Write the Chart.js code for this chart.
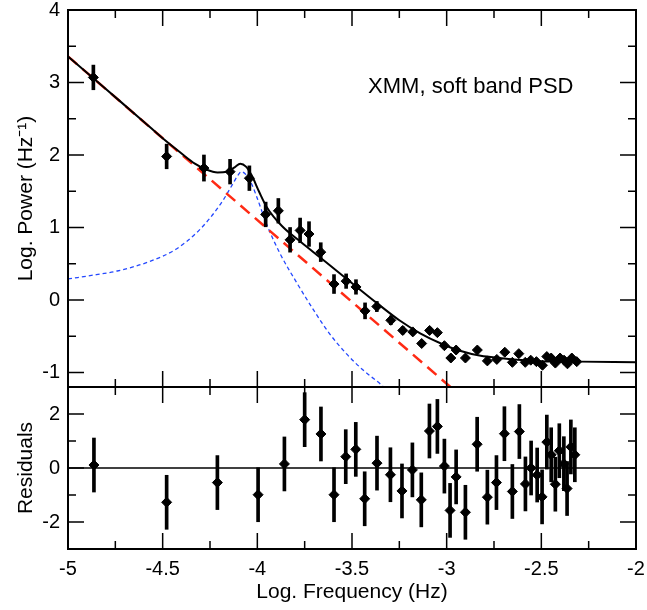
<!DOCTYPE html>
<html>
<head>
<meta charset="utf-8">
<script src="https://cdn.jsdelivr.net/npm/chart.js@4.4.0/dist/chart.umd.min.js"></script>
<style>
  html, body { margin: 0; padding: 0; background: #fff; }
  #wrap { width: 647px; height: 610px; }
</style>
</head>
<body>
<div id="wrap"><canvas id="psd" width="647" height="610"></canvas></div>
<script>
Chart.defaults.devicePixelRatio = 1;
Chart.defaults.responsive = false;
Chart.defaults.maintainAspectRatio = false;

// PSD points (log frequency, log power, 1-sigma error)
const psdFreq = [-4.866, -4.479, -4.282, -4.144, -4.042, -3.956, -3.889, -3.827, -3.774, -3.727,
  -3.665, -3.595, -3.531, -3.479, -3.431, -3.369, -3.295, -3.232, -3.179, -3.132,
  -3.090, -3.049, -3.012, -2.978, -2.950, -2.901, -2.838, -2.785, -2.735, -2.693,
  -2.653, -2.619, -2.585, -2.556, -2.526, -2.494, -2.471, -2.448, -2.426, -2.401,
  -2.380, -2.362, -2.339, -2.313];
const psdPower = [3.07, 1.98, 1.82, 1.77, 1.68, 1.18, 1.23, 0.83, 0.96, 0.91,
  0.66, 0.22, 0.26, 0.18, -0.15, -0.09, -0.28, -0.42, -0.44, -0.60,
  -0.42, -0.45, -0.63, -0.80, -0.69, -0.80, -0.69, -0.84, -0.82, -0.72,
  -0.86, -0.74, -0.86, -0.83, -0.85, -0.90, -0.78, -0.80, -0.87, -0.80,
  -0.83, -0.88, -0.80, -0.85];
const psdErr = [0.17, 0.17, 0.18, 0.17, 0.17, 0.17, 0.17, 0.17, 0.17, 0.17,
  0.13, 0.13, 0.10, 0.10, 0.11, 0.07, 0.06, 0.05, 0.04, 0.04,
  0.04, 0.04, 0.04, 0.04, 0.04, 0.04, 0.04, 0.04, 0.04, 0.04,
  0.04, 0.04, 0.04, 0.04, 0.04, 0.04, 0.04, 0.04, 0.04, 0.04,
  0.04, 0.04, 0.04, 0.04];

// model curves
const modelFreq = [-5.0, -4.8, -4.6, -4.5, -4.4, -4.33, -4.27, -4.21, -4.16, -4.12,
  -4.09, -4.06, -4.03, -3.99, -3.95, -3.87, -3.77, -3.67, -3.57,
  -3.48, -3.37, -3.25, -3.14, -3.03, -2.93,
  -2.82, -2.72, -2.54, -2.3, -2.0];
const modelPower = [3.36, 2.91, 2.46, 2.23, 2.02, 1.88, 1.80, 1.76, 1.77, 1.83,
  1.88, 1.84, 1.72, 1.49, 1.28, 1.02, 0.80, 0.59, 0.38,
  0.19, -0.04, -0.28, -0.46, -0.60, -0.70,
  -0.77, -0.80, -0.84, -0.85, -0.86];
const powerLawFreq = [-5.0, -2.98];
const powerLawPower = [3.36, -1.2];
const lorentzFreq = [-5.0, -4.85, -4.74, -4.57, -4.43, -4.32, -4.25, -4.18, -4.13, -4.10,
  -4.085, -4.06, -4.03, -4.0, -3.95, -3.88, -3.79, -3.70, -3.62, -3.53,
  -3.44, -3.35, -3.31];
const lorentzPower = [0.29, 0.35, 0.40, 0.53, 0.70, 0.93, 1.13, 1.38, 1.60, 1.73,
  1.77, 1.73, 1.60, 1.40, 1.04, 0.64, 0.23, -0.15, -0.46, -0.74,
  -0.97, -1.16, -1.26];

// residuals
const resFreq = [-4.863, -4.479, -4.211, -3.996, -3.857, -3.750, -3.664, -3.595, -3.533, -3.480,
  -3.433, -3.368, -3.297, -3.236, -3.181, -3.134, -3.091, -3.049, -3.012, -2.982,
  -2.950, -2.901, -2.839, -2.785, -2.737, -2.695, -2.653, -2.616, -2.584, -2.554,
  -2.522, -2.496, -2.471, -2.448, -2.426, -2.405, -2.381, -2.364, -2.344, -2.323];
const resValue = [0.11, -1.27, -0.54, -0.99, 0.15, 1.79, 1.26, -0.99, 0.42, 0.69,
  -1.14, 0.18, -0.25, -0.85, -0.07, -1.18, 1.37, 1.54, 0.07, -1.57,
  -0.33, -1.64, 0.88, -1.08, -0.54, 1.27, -0.87, 1.35, -0.59, 0.0,
  -0.26, -1.07, 0.96, 0.49, -0.60, 0.64, 0.16, -0.76, 0.78, 0.49];
const resErr = [1.0, 1.0, 1.0, 1.0, 1.0, 1.0, 1.0, 1.0, 1.0, 1.0,
  1.0, 1.0, 1.0, 1.0, 1.0, 1.0, 1.0, 1.0, 1.0, 1.0,
  1.0, 1.0, 1.0, 1.0, 1.0, 1.0, 1.0, 1.0, 1.0, 1.0,
  1.0, 1.0, 1.0, 1.0, 1.0, 1.0, 1.0, 1.0, 1.0, 1.0];

const xTicks = [-5, -4.5, -4, -3.5, -3, -2.5, -2];
const powerTicks = [-1, 0, 1, 2, 3, 4];
const resTicks = [-2, 0, 2];
const annotText = "XMM, soft band PSD";
const annotX = -3.415;
const annotY = 2.94;

const FONT = '"Liberation Sans", Arial, Helvetica, sans-serif';

function pts(xs, ys) {
  return xs.map((x, i) => ({ x: x, y: ys[i] }));
}
function bars(xs, ys, es) {
  return xs.map((x, i) => ({ x: x, y: [ys[i] - es[i], ys[i] + es[i]] }));
}

// frame, inward ticks on all sides of both panels, and the label
const framePlugin = {
  id: "frame",
  afterDraw(chart) {
    const { ctx } = chart;
    const xs = chart.scales.x;
    const panels = [
      { sc: chart.scales.y, major: 1, minor: 0.5, lo: -1.2, hi: 4 },
      { sc: chart.scales.yRes, major: 2, minor: 1, lo: -3, hi: 3 },
    ];
    const L = xs.left, R = xs.right;
    ctx.save();
    ctx.strokeStyle = "#000";
    ctx.lineWidth = 1.5;
    panels.forEach((p) => {
      const T = p.sc.top, B = p.sc.bottom;
      ctx.beginPath();
      for (let v = -5; v <= -2.0001; v += 0.25) {
        const px = xs.getPixelForValue(v);
        const len = Math.abs(v * 2 - Math.round(v * 2)) < 1e-6 ? 16 : 8;
        ctx.moveTo(px, T); ctx.lineTo(px, T + len);
        ctx.moveTo(px, B); ctx.lineTo(px, B - len);
      }
      const start = Math.ceil(p.lo / p.minor) * p.minor;
      for (let v = start; v <= p.hi + 1e-6; v += p.minor) {
        const py = p.sc.getPixelForValue(v);
        if (py <= T + 1 || py >= B - 1) continue;
        const len = Math.abs(v / p.major - Math.round(v / p.major)) < 1e-6 ? 16 : 8;
        ctx.moveTo(L, py); ctx.lineTo(L + len, py);
        ctx.moveTo(R, py); ctx.lineTo(R - len, py);
      }
      ctx.stroke();
      ctx.lineWidth = 2;
      ctx.strokeRect(L, T, R - L, B - T);
      ctx.lineWidth = 1.5;
    });
    ctx.fillStyle = "#000";
    ctx.font = "22px " + FONT;
    ctx.textBaseline = "middle";
    ctx.textAlign = "left";
    ctx.fillText(annotText, xs.getPixelForValue(annotX), chart.scales.y.getPixelForValue(annotY));
    ctx.restore();
  },
};

const tickFont = { family: FONT, size: 20 };
const titleFont = { family: FONT, size: 21 };

// keep tick labels from pushing the plot area inward
function fixWidth(s) {
  s.width = 68;
  s.paddingTop = 0;
  s.paddingBottom = 0;
}

new Chart(document.getElementById("psd").getContext("2d"), {
  type: "scatter",
  data: {
    datasets: [
      {
        type: "scatter",
        data: pts(psdFreq, psdPower),
        yAxisID: "y",
        pointStyle: "rectRot",
        pointRadius: 5,
        backgroundColor: "#000",
        borderColor: "#000",
        borderWidth: 1,
      },
      {
        type: "bar",
        data: bars(psdFreq, psdPower, psdErr),
        yAxisID: "y",
        backgroundColor: "#000",
        barThickness: 3,
        grouped: false,
      },
      {
        type: "scatter",
        data: pts(resFreq, resValue),
        yAxisID: "yRes",
        pointStyle: "rectRot",
        pointRadius: 5,
        backgroundColor: "#000",
        borderColor: "#000",
        borderWidth: 1,
      },
      {
        type: "bar",
        data: bars(resFreq, resValue, resErr),
        yAxisID: "yRes",
        backgroundColor: "#000",
        barThickness: 3,
        grouped: false,
      },
      {
        type: "line",
        data: pts(modelFreq, modelPower),
        yAxisID: "y",
        borderColor: "#000",
        borderWidth: 2,
        pointRadius: 0,
        cubicInterpolationMode: "monotone",
        fill: false,
      },
      {
        type: "line",
        data: pts(powerLawFreq, powerLawPower),
        yAxisID: "y",
        borderColor: "#ff2a14",
        borderWidth: 2.5,
        borderDash: [12, 7],
        pointRadius: 0,
        fill: false,
      },
      {
        type: "line",
        data: pts(lorentzFreq, lorentzPower),
        yAxisID: "y",
        borderColor: "#2448ff",
        borderWidth: 1.3,
        borderDash: [4, 3],
        pointRadius: 0,
        cubicInterpolationMode: "monotone",
        fill: false,
      },
      {
        type: "line",
        data: [{ x: -5, y: 0 }, { x: -2, y: 0 }],
        yAxisID: "yRes",
        borderColor: "#000",
        borderWidth: 1.3,
        pointRadius: 0,
        fill: false,
      },
    ],
  },
  options: {
    responsive: false,
    animation: false,
    events: [],
    layout: { padding: { top: 10, right: 11, left: 0, bottom: 0 } },
    plugins: { legend: { display: false }, tooltip: { enabled: false } },
    scales: {
      x: {
        type: "linear",
        min: -5,
        max: -2,
        offset: false,
        grid: { display: false, drawTicks: false },
        border: { display: false },
        afterBuildTicks: (s) => { s.ticks = xTicks.map((v) => ({ value: v })); },
        ticks: {
          color: "#000",
          font: tickFont,
          padding: 8,
          maxRotation: 0,
          autoSkip: false,
          callback: (v) => (Number.isInteger(v) ? String(v) : v.toFixed(1)),
        },
        title: {
          display: true,
          text: "Log. Frequency (Hz)",
          color: "#000",
          font: titleFont,
          padding: { top: 0, bottom: 5 },
        },
        afterFit: (s) => {
          s.height = 61;
          s.paddingLeft = 0;
          s.paddingRight = 0;
        },
      },
      // left boxes are stacked in reverse order: the later one ends up on top
      yRes: {
        type: "linear",
        position: "left",
        stack: "panels",
        stackWeight: 162,
        min: -3,
        max: 3,
        grid: { display: false, drawTicks: false },
        border: { display: false },
        afterBuildTicks: (s) => { s.ticks = resTicks.map((v) => ({ value: v })); },
        ticks: { color: "#000", font: tickFont, padding: 8 },
        title: {
          display: true,
          text: "Residuals",
          color: "#000",
          font: titleFont,
          padding: { top: 14, bottom: 0 },
        },
        afterFit: fixWidth,
      },
      y: {
        type: "linear",
        position: "left",
        stack: "panels",
        stackWeight: 377,
        min: -1.2,
        max: 4,
        grid: { display: false, drawTicks: false },
        border: { display: false },
        afterBuildTicks: (s) => { s.ticks = powerTicks.map((v) => ({ value: v })); },
        ticks: { color: "#000", font: tickFont, padding: 8 },
        title: {
          display: true,
          text: "Log. Power (Hz\u207B\u00B9)",
          color: "#000",
          font: titleFont,
          padding: { top: 14, bottom: 0 },
        },
        afterFit: fixWidth,
      },
    },
  },
  plugins: [framePlugin],
});
</script>
</body>
</html>
